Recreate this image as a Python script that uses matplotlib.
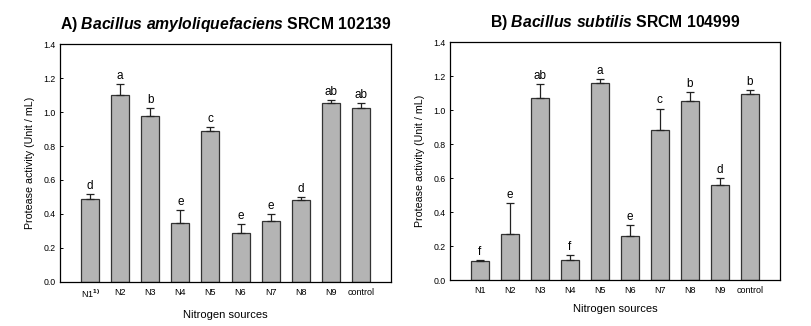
import matplotlib
matplotlib.use('Agg')
import matplotlib.pyplot as plt
import numpy as np

plt.rcParams['font.family'] = ['Liberation Sans', 'DejaVu Sans']
plt.rcParams['mathtext.fontset'] = 'custom'
plt.rcParams['mathtext.rm'] = 'Liberation Sans'
plt.rcParams['mathtext.bf'] = 'Liberation Sans:bold'
plt.rcParams['mathtext.it'] = 'Liberation Sans:bold:italic'

labels_a = [r'N1$^{\mathbf{1)}}$', 'N2', 'N3', 'N4', 'N5', 'N6', 'N7', 'N8', 'N9', 'control']
labels_b = ['N1', 'N2', 'N3', 'N4', 'N5', 'N6', 'N7', 'N8', 'N9', 'control']

# protease activity (Unit / mL), mean and standard deviation
mean_a = [0.49, 1.098, 0.978, 0.345, 0.888, 0.286, 0.36, 0.482, 1.055, 1.022]
sd_a = [0.026, 0.065, 0.044, 0.08, 0.022, 0.057, 0.042, 0.016, 0.016, 0.029]
letters_a = ['d', 'a', 'b', 'e', 'c', 'e', 'e', 'd', 'ab', 'ab']

mean_b = [0.11, 0.27, 1.073, 0.12, 1.157, 0.257, 0.885, 1.054, 0.561, 1.093]
sd_b = [0.006, 0.181, 0.078, 0.025, 0.028, 0.067, 0.124, 0.052, 0.037, 0.023]
letters_b = ['f', 'e', 'ab', 'f', 'a', 'e', 'c', 'b', 'd', 'b']

title_a = r'A) $\mathit{Bacillus\ amyloliquefaciens}$ SRCM 102139'
title_b = r'B) $\mathit{Bacillus\ subtilis}$ SRCM 104999'


def draw_panel(ax, labels, means, sds, letters, title):
    x = np.arange(1, len(means) + 1)
    ax.bar(x, means, width=0.6, color='#b4b4b4', edgecolor='#333333', linewidth=0.9, zorder=2)
    ax.errorbar(x, means, yerr=[np.zeros(len(sds)), sds], fmt='none', ecolor='#222222',
                elinewidth=0.9, capsize=3, capthick=0.9, zorder=3)
    for xi, m, s, lt in zip(x, means, sds, letters):
        ax.annotate(lt, (xi, m + s), xytext=(0, 1.5), textcoords='offset points',
                    ha='center', va='bottom', fontsize=8.5)
    ax.set_xlim(0, 11)
    ax.set_ylim(0, 1.4)
    ax.set_yticks(np.arange(0, 1.41, 0.2))
    ax.set_yticklabels([f'{v:.1f}' for v in np.arange(0, 1.41, 0.2)], fontsize=6.3)
    ax.set_xticks(x)
    ax.set_xticklabels(labels, fontsize=6.5)
    ax.tick_params(axis='x', length=0, pad=4)
    ax.tick_params(axis='y', direction='in', length=2.5, width=0.7, pad=3)
    for sp in ax.spines.values():
        sp.set_linewidth(0.9)
    ax.set_xlabel('Nitrogen sources', fontsize=8, labelpad=7)
    ax.set_ylabel('Protease activity (Unit / mL)', fontsize=7.7, labelpad=6)
    ax.set_title(title, fontsize=11.3, fontweight='bold', pad=11)


fig = plt.figure(figsize=(8.12, 3.26), dpi=100)
ax1 = fig.add_axes([0.0739, 0.135, 0.4076, 0.730])
ax2 = fig.add_axes([0.554, 0.141, 0.4064, 0.730])

draw_panel(ax1, labels_a, mean_a, sd_a, letters_a, title_a)
draw_panel(ax2, labels_b, mean_b, sd_b, letters_b, title_b)

fig.savefig('out.png', dpi=100)
